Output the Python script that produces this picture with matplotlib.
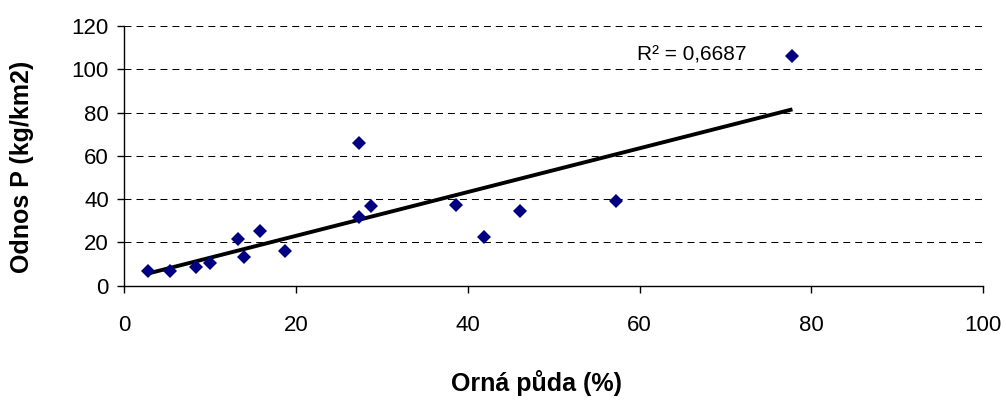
import matplotlib
matplotlib.use("Agg")
import matplotlib.pyplot as plt
import numpy as np

plt.rcParams["font.family"] = ["Liberation Sans", "DejaVu Sans"]

# Orná půda (%) vs. odnos fosforu (kg/km2)
orna_puda = [2.8, 5.4, 8.4, 10.0, 13.3, 14.0, 15.8, 18.7,
             27.3, 27.4, 28.7, 38.6, 41.9, 46.1, 57.3, 77.8]
odnos_p = [6.6, 6.6, 8.6, 10.5, 21.5, 13.1, 25.4, 16.1,
           65.9, 31.7, 36.6, 37.2, 22.5, 34.6, 39.2, 106.3]
r2_label = "R² = 0,6687"

x = np.array(orna_puda)
y = np.array(odnos_p)

fig = plt.figure(figsize=(10.06, 4.05), dpi=100)
ax = fig.add_axes([0.1233, 0.295, 0.854, 0.6407])

# linear trend line over the data range
k, q = np.polyfit(x, y, 1)
xs = np.array([x.min(), x.max()])
ax.plot(xs, k * xs + q, color="black", lw=2.8, solid_capstyle="butt", zorder=2)

ax.plot(x, y, linestyle="none", marker="D", ms=7.5, color="#000080",
        markeredgewidth=0, zorder=3)

ax.set_xlim(0, 100)
ax.set_ylim(0, 120)
ax.set_xticks(range(0, 101, 20))
ax.set_yticks(range(0, 121, 20))

for v in range(20, 121, 20):
    ax.axhline(v, color="black", lw=0.75, linestyle=(0, (6.7, 4.8)), zorder=1)

for side in ("top", "right"):
    ax.spines[side].set_visible(False)
for side in ("left", "bottom"):
    ax.spines[side].set_linewidth(1.0)
ax.tick_params(direction="out", length=5, width=1.0, labelsize=16)
ax.tick_params(axis="x", pad=16)
ax.tick_params(axis="y", pad=6)

xl = ax.set_xlabel("Orná půda (%)", fontsize=18, fontweight="bold")
ax.xaxis.set_label_coords(0.48, -0.376)
xl.set_va("center")
yl = ax.set_ylabel("Odnos P (kg/km2)", fontsize=18, fontweight="bold")
ax.yaxis.set_label_coords(-0.1187, 0.457)
yl.set_va("center")

ax.text(66.1, 106.6, r2_label, fontsize=15, ha="center", va="center")

fig.savefig("out.png", dpi=100)
